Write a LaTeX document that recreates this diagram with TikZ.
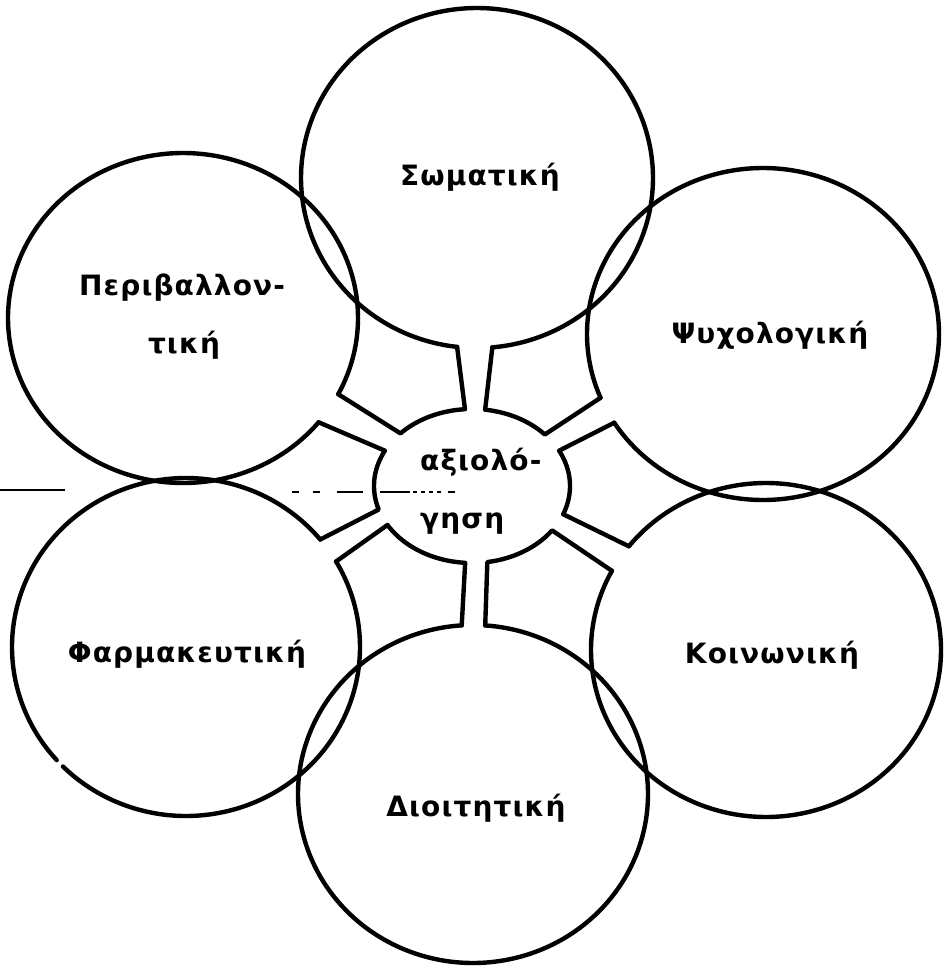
\documentclass[tikz,border=0pt]{standalone}
\usepackage{fontspec}
\setmainfont{DejaVu Sans}[LetterSpace=4.0]
\begin{document}
\begin{tikzpicture}[x=1pt,y=-1pt,line width=4.4pt,line cap=round,line join=round,
  lbl/.style={inner sep=0pt,anchor=base,font=\fontsize{28}{34}\selectfont\bfseries},
  scan/.style={line width=2.4pt,line cap=butt}]
\useasboundingbox (0,0) rectangle (944,967);
% mouth points of the outer circles
\coordinate (Sl) at ({477+176*cos(96.5)},{178+170*sin(96.5)});
\coordinate (Sr) at ({477+176*cos(85)},{178+170*sin(85)});
\coordinate (Yu) at ({763+176*cos(157.4)},{334+166*sin(157.4)});
\coordinate (Yl) at ({763+176*cos(147.7)},{334+166*sin(147.7)});
\coordinate (Ku) at ({766+175*cos(218.4)},{650+167*sin(218.4)});
\coordinate (Kl) at ({766+175*cos(208.3)},{650+167*sin(208.3)});
\coordinate (Dl) at ({473+175*cos(266.3)},{794+169*sin(266.3)});
\coordinate (Dr) at ({473+175*cos(274)},{794+169*sin(274)});
\coordinate (Fu) at ({186+174*cos(320.5)},{647+169*sin(320.5)});
\coordinate (Fl) at ({186+174*cos(329.6)},{647+169*sin(329.6)});
\coordinate (Pu) at ({183+175*cos(27.5)},{318+165*sin(27.5)});
\coordinate (Pl) at ({183+175*cos(39.2)},{318+165*sin(39.2)});
% outer circles (open where the channel enters)
\draw plot[domain=96.5:445,samples=180,smooth] ({477+176*cos(\x)},{178+170*sin(\x)});
\draw plot[domain=157.4:507.7,samples=180,smooth] ({763+176*cos(\x)},{334+166*sin(\x)});
\draw plot[domain=218.4:568.3,samples=180,smooth] ({766+175*cos(\x)},{650+167*sin(\x)});
\draw plot[domain=274:626.3,samples=180,smooth] ({473+175*cos(\x)},{794+169*sin(\x)});
\draw plot[domain=329.6:495,samples=90,smooth] ({186+174*cos(\x)},{647+169*sin(\x)});
\draw plot[domain=498:680.5,samples=90,smooth] ({186+174*cos(\x)},{647+169*sin(\x)});
\draw plot[domain=39.2:387.5,samples=180,smooth] ({183+175*cos(\x)},{318+165*sin(\x)});
% channel walls with the arcs of the central oval
\draw (Pu) -- plot[domain=223.1:265.9,samples=30,smooth] ({472+98*cos(\x)},{486+77*sin(\x)}) -- (Sl);
\draw (Sr) -- plot[domain=277.7:318,samples=30,smooth] ({472+98*cos(\x)},{486+77*sin(\x)}) -- (Yu);
\draw (Yl) -- plot[domain=332.7:381.5,samples=30,smooth] ({472+98*cos(\x)},{486+77*sin(\x)}) -- (Ku);
\draw (Kl) -- plot[domain=35.2:81,samples=30,smooth] ({472+98*cos(\x)},{486+77*sin(\x)}) -- (Dr);
\draw (Dl) -- plot[domain=94:149.6,samples=30,smooth] ({472+98*cos(\x)},{486+77*sin(\x)}) -- (Fl);
\draw (Fu) -- plot[domain=162.2:207.3,samples=30,smooth] ({472+98*cos(\x)},{486+77*sin(\x)}) -- (Pl);
% stray horizontal line
\draw[scan] (0,490) -- (65,490);
\draw[scan] (292,492) -- (299,492);
\draw[scan] (313,492) -- (320,492);
\draw[scan] (337,492) -- (363,492);
\draw[scan] (380,492) -- (410,492);
\draw[scan,line width=1.4pt,dash pattern=on 4pt off 4pt] (413,492) -- (442,492);
\draw[scan] (448,492) -- (455,492);
% labels
\node[lbl] (som) at (480,185) {Σωματική};
\node[lbl] (psy) at (770,343) {Ψυχολογική};
\node[lbl] (per1) at (182,295) {Περιβαλλον-};
\node[lbl] (per2) at (184,353) {τική};
\node[lbl] (far) at (187,662) {Φαρμακευτική};
\node[lbl] (koi) at (772,663) {Κοινωνική};
\node[lbl] (dio) at (476,816) {Διοιτητική};
\node[lbl,anchor=base west] (ax1) at (418,470) {αξιολό-};
\node[lbl,anchor=base west] (ax2) at (418,528) {γηση};
\end{tikzpicture}
\end{document}
